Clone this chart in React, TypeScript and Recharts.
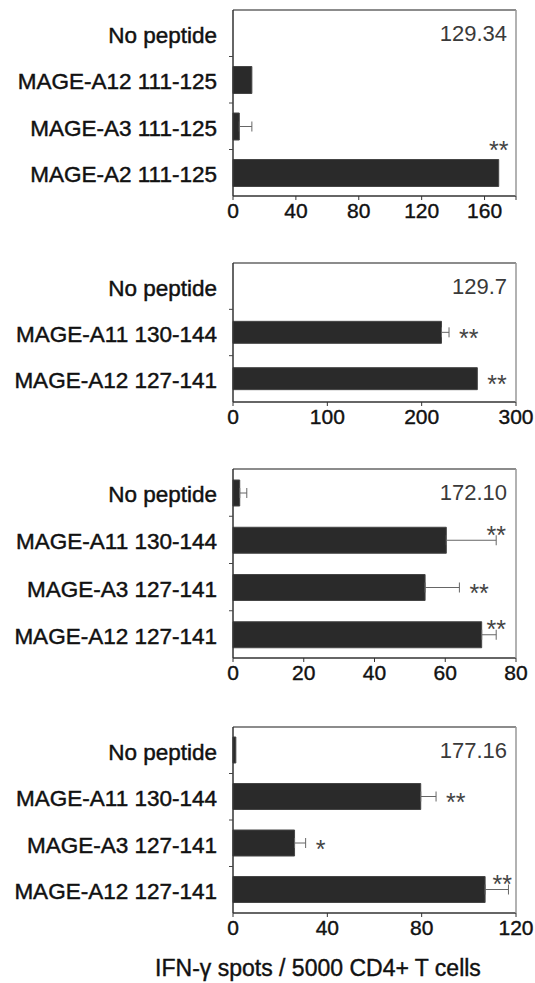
import React from 'react';
import { BarChart, Bar, XAxis, YAxis, ErrorBar, LabelList, ReferenceLine } from 'recharts';

// panel 1
const p1Labels = ['No peptide', 'MAGE-A12 111-125', 'MAGE-A3 111-125', 'MAGE-A2 111-125'];
const p1Values = [0, 12, 4, 169];
const p1Errors = [0, 0, 8, 0];
const p1Stars = ['', '', '', '**'];
const p1Ticks = [0, 40, 80, 120, 160, 180];
const p1TickLabels = ['0', '40', '80', '120', '160', ''];

// panel 2
const p2Labels = ['No peptide', 'MAGE-A11 130-144', 'MAGE-A12 127-141'];
const p2Values = [0, 221, 259];
const p2Errors = [0, 8, 0];
const p2Stars = ['', '**', '**'];
const p2Ticks = [0, 100, 200, 300];
const p2TickLabels = ['0', '100', '200', '300'];

// panel 3
const p3Labels = ['No peptide', 'MAGE-A11 130-144', 'MAGE-A3 127-141', 'MAGE-A12 127-141'];
const p3Values = [1.9, 60.3, 54.3, 70.3];
const p3Errors = [2, 14.1, 9.7, 4.1];
const p3Stars = ['', '**', '**', '**'];
const p3Ticks = [0, 20, 40, 60, 80];
const p3TickLabels = ['0', '20', '40', '60', '80'];

// panel 4
const p4Labels = ['No peptide', 'MAGE-A11 130-144', 'MAGE-A3 127-141', 'MAGE-A12 127-141'];
const p4Values = [1.2, 79.6, 26.1, 106.9];
const p4Errors = [0, 6.5, 4.7, 9.9];
const p4Stars = ['', '**', '*', '**'];
const p4Ticks = [0, 40, 80, 120];
const p4TickLabels = ['0', '40', '80', '120'];

const notes = ['129.34', '129.7', '172.10', '177.16'];
const xTitle = 'IFN-\u03b3 spots / 5000 CD4+ T cells';

const W = 535;
const AXIS_X = 233;
const PLOT_RIGHT = 516;
const FONT = '"Liberation Sans", Arial, Helvetica, sans-serif';

interface PanelProps {
  labels: string[];
  values: number[];
  errors: number[];
  stars: string[];
  note: string;
  max: number;
  ticks: number[];
  tickLabels: string[];
  top: number;
  plotH: number;
  barSize: number;
}

function Panel({ labels, values, errors, stars, note, max, ticks, tickLabels, top, plotH, barSize }: PanelProps) {
  const rows = labels.map((name, i) => ({
    name,
    idx: i,
    value: values[i],
    err: errors[i] > 0 ? [0, errors[i]] : null,
  }));
  const band = plotH / labels.length;
  const chartH = 10 + plotH + 40;

  const CatTick = (p: any) => (
    <g>
      <text
        x={AXIS_X - 16}
        y={p.y}
        dy={2}
        textAnchor="end"
        dominantBaseline="central"
        fontSize={22.5}
        fill="#111"
        stroke="#111"
        strokeWidth={0.45}
        fontFamily={FONT}
      >
        {p.payload.value}
      </text>
      {p.index > 0 && (
        <line x1={AXIS_X - 4} x2={AXIS_X} y1={p.y - band / 2} y2={p.y - band / 2} stroke="#444" />
      )}
    </g>
  );

  // label value is the row index, so zero-length bars skipped by the list don't shift anything
  const Star = (p: any) => {
    const i = Number(p.value);
    const s = stars[i];
    if (!s) return null;
    const vb = p.viewBox ?? p;
    const x = Number(vb.x);
    const y = Number(vb.y);
    const w = Number(vb.width);
    const h = Number(vb.height);
    const errPx = values[i] > 0 ? (w * errors[i]) / values[i] : 0;
    const barEnd = x + w;
    const endX = barEnd + errPx;
    const fs = 25;
    const starW = fs * 0.39 * s.length;
    // asterisk glyph sits high in the em box; shift baseline so its middle lands on the target
    const lift = fs * 0.58;
    if (endX + 10 + starW <= PLOT_RIGHT - 4) {
      return (
        <text x={endX + 10} y={y + h / 2 + lift} textAnchor="start" fontSize={fs} fill="#444" fontFamily={FONT}>
          {s}
        </text>
      );
    }
    const cx = Math.min(endX, PLOT_RIGHT - starW / 2 - 4);
    // no room on the right: sit on the error line, or clear the bar if it would overlap it
    const cy = cx - starW / 2 < barEnd ? y - 15 : y + 2;
    return (
      <text x={cx} y={cy + lift} textAnchor="middle" fontSize={fs} fill="#444" fontFamily={FONT}>
        {s}
      </text>
    );
  };

  return (
    <div style={{ position: 'absolute', left: 0, top: top - 10, width: W, height: chartH }}>
      <BarChart
        layout="vertical"
        width={W}
        height={chartH}
        data={rows}
        margin={{ top: 9, right: W - PLOT_RIGHT - 1, bottom: 0, left: 0 }}
        barSize={barSize}
      >
        <XAxis
          type="number"
          domain={[0, max]}
          ticks={ticks}
          interval={0}
          tickFormatter={(v: number, i: number) => tickLabels[i] ?? String(v)}
          height={40}
          tickSize={4}
          tickMargin={3}
          axisLine={{ stroke: '#333', strokeWidth: 1.5 }}
          tickLine={{ stroke: '#333' }}
          tick={{ fill: '#111', stroke: '#111', strokeWidth: 0.4, fontSize: 21, fontFamily: FONT }}
        />
        <XAxis
          xAxisId="t"
          orientation="top"
          type="number"
          domain={[0, max]}
          height={1}
          tick={false}
          tickLine={false}
          axisLine={{ stroke: '#666', strokeWidth: 1.5 }}
        />
        <YAxis
          type="category"
          dataKey="name"
          width={AXIS_X}
          tickLine={false}
          axisLine={{ stroke: '#333', strokeWidth: 1.5 }}
          tick={(p: any) => <CatTick {...p} />}
          interval={0}
        />
        <YAxis
          yAxisId="r"
          orientation="right"
          type="category"
          dataKey="name"
          width={1}
          tick={false}
          tickLine={false}
          axisLine={{ stroke: '#999', strokeWidth: 1.5 }}
        />
        <ReferenceLine
          y={labels[0]}
          stroke="none"
          label={{ value: note, position: 'insideRight', offset: 9, fill: '#3a3a3a', fontSize: 22, fontFamily: FONT }}
        />
        <Bar dataKey="value" fill="#2a2a2a" stroke="#454545" strokeWidth={1} isAnimationActive={false}>
          <ErrorBar dataKey="err" direction="x" width={5} stroke="#666" strokeWidth={1} />
          <LabelList dataKey="idx" content={Star} />
        </Bar>
      </BarChart>
    </div>
  );
}

export default function App() {
  return (
    <div style={{ position: 'absolute', left: 0, top: 0, width: W, height: 983, background: '#fff' }}>
      <Panel labels={p1Labels} values={p1Values} errors={p1Errors} stars={p1Stars} note={notes[0]}
        max={180} ticks={p1Ticks} tickLabels={p1TickLabels} top={10} plotH={186} barSize={27} />
      <Panel labels={p2Labels} values={p2Values} errors={p2Errors} stars={p2Stars} note={notes[1]}
        max={300} ticks={p2Ticks} tickLabels={p2TickLabels} top={263} plotH={139} barSize={22} />
      <Panel labels={p3Labels} values={p3Values} errors={p3Errors} stars={p3Stars} note={notes[2]}
        max={80} ticks={p3Ticks} tickLabels={p3TickLabels} top={469} plotH={189} barSize={26} />
      <Panel labels={p4Labels} values={p4Values} errors={p4Errors} stars={p4Stars} note={notes[3]}
        max={120} ticks={p4Ticks} tickLabels={p4TickLabels} top={727} plotH={186} barSize={26} />
      <div
        style={{
          position: 'absolute',
          left: 118,
          width: 400,
          top: 955,
          textAlign: 'center',
          fontFamily: FONT,
          fontSize: 23,
          lineHeight: '26px',
          color: '#111',
          WebkitTextStroke: '0.4px #111',
        }}
      >
        {xTitle}
      </div>
    </div>
  );
}
